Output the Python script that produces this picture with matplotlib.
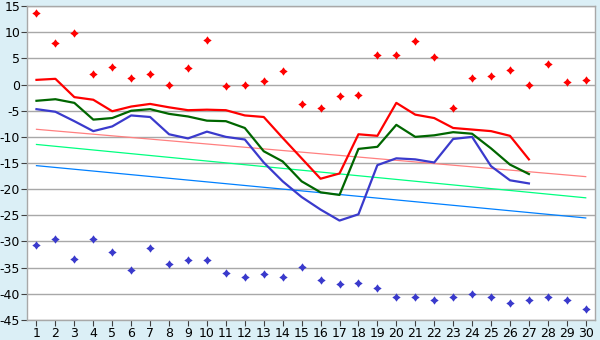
import numpy as np
import matplotlib
matplotlib.use("Agg")
import matplotlib.pyplot as plt

plt.rcParams['axes.unicode_minus'] = False
plt.rcParams['font.family'] = ['DejaVu Sans']

# dias do mês
dias = list(range(1, 31))
rotulos = [str(d) for d in dias]

# pontos isolados (máximas e mínimas)
pontos_max = [13.6, 8.0, 9.9, 2.0, 3.3, 1.2, 2.0, 0.0, 3.1, 8.5,
              -0.2, 0.0, 0.6, 2.5, -3.8, -4.4, -2.1, -1.9, 5.6, 5.6,
              8.3, 5.2, -4.4, 1.2, 1.7, 2.7, 0.0, 3.9, 0.4, 0.8]
pontos_min = [-30.6, -29.5, -33.3, -29.5, -32.0, -35.4, -31.2, -34.4, -33.6, -33.5,
              -36.0, -36.7, -36.2, -36.7, -34.8, -37.3, -38.1, -37.9, -38.8, -40.6,
              -40.6, -41.2, -40.6, -40.0, -40.6, -41.7, -41.2, -40.6, -41.2, -43.0]

# séries diárias (dias 1 a 27)
serie_vermelha = [0.9, 1.1, -2.4, -2.9, -5.1, -4.2, -3.7, -4.35, -4.9, -4.8,
                  -4.9, -5.9, -6.2, -10.2, -14.1, -18.0, -17.0, -9.5, -9.8, -3.5,
                  -5.75, -6.4, -8.3, -8.6, -8.9, -9.8, -14.3]
serie_verde = [-3.1, -2.8, -3.5, -6.7, -6.4, -5.0, -4.7, -5.6, -6.1, -6.9,
               -7.0, -8.3, -12.75, -14.7, -18.5, -20.6, -21.1, -12.3, -11.9, -7.7,
               -10.0, -9.7, -9.1, -9.4, -12.2, -15.3, -17.1]
serie_azul = [-4.7, -5.2, -7.0, -8.9, -8.0, -5.9, -6.2, -9.5, -10.3, -9.0,
              -10.0, -10.5, -14.9, -18.5, -21.5, -23.9, -26.0, -24.8, -15.4, -14.1,
              -14.3, -14.9, -10.4, -10.0, -15.6, -18.3, -18.9]

# retas de tendência: valor no dia 1 e no dia 30
tend_dias = [1, 30]
tend_rosa = [-8.55, -17.6]
tend_verde = [-11.45, -21.65]
tend_azul = [-15.5, -25.5]

fundo = '#DBEFF6'
cinza = '#A8A8A8'

# marcador em forma de estrela de 4 pontas, bem cheia
r = 0.42
estrela = [(0, 1), (r, r), (1, 0), (r, -r), (0, -1), (-r, -r), (-1, 0), (-r, r), (0, 1)]

fig = plt.figure(figsize=(6, 3.4), dpi=100, facecolor=fundo)
ax = fig.add_axes([0.045, 0.059, 0.947, 0.923])
ax.set_facecolor('white')

ax.plot(tend_dias, tend_rosa, color='#FF8080', lw=0.9)
ax.plot(tend_dias, tend_verde, color='#00FF80', lw=0.9)
ax.plot(tend_dias, tend_azul, color='#0080FF', lw=0.9)

d27 = dias[:len(serie_vermelha)]
ax.plot(d27, serie_vermelha, color='#FF0000', lw=1.6)
ax.plot(d27, serie_verde, color='#006600', lw=1.6)
ax.plot(d27, serie_azul, color='#3A3ACC', lw=1.6)

ax.plot(dias, pontos_max, ls='none', marker=estrela, ms=6, color='#FF0000', mew=0)
ax.plot(dias, pontos_min, ls='none', marker=estrela, ms=6, color='#3A3ACC', mew=0)

ax.set_xlim(0.5, 30.5)
ax.set_ylim(-45, 15)
ax.set_xticks(dias)
ax.set_xticklabels(rotulos)
ax.set_yticks(np.arange(-45, 16, 5))
ax.yaxis.grid(True, color=cinza, lw=1)
ax.set_axisbelow(True)
ax.tick_params(axis='both', labelsize=9, color='#404040', length=4, width=0.8, pad=1)
for s in ax.spines.values():
    s.set_color(cinza)
    s.set_linewidth(1)

fig.savefig('out.png', dpi=100, facecolor=fundo)
